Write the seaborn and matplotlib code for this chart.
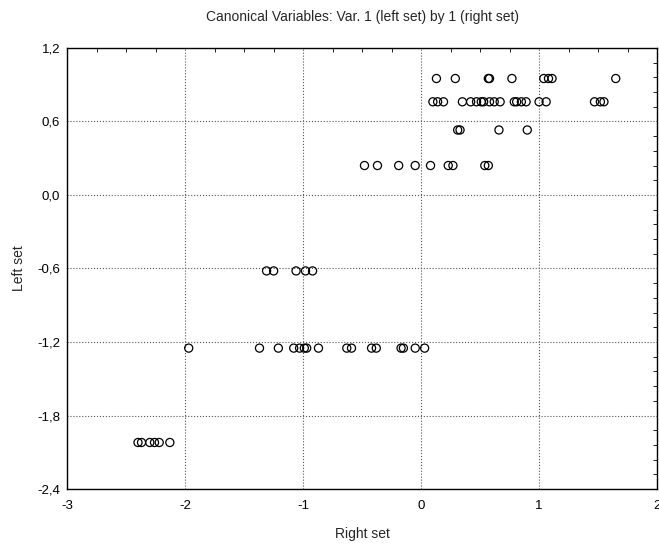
import numpy as np
import pandas as pd
import matplotlib
matplotlib.use("Agg")
import matplotlib.pyplot as plt
import seaborn as sns
from matplotlib.ticker import MultipleLocator, FixedLocator

sns.set_style("white")
plt.rcParams['font.family'] = ['Liberation Sans Narrow', 'Liberation Sans', 'DejaVu Sans']

# canonical scores, one list per level of the left set
row1_x = [0.13, 0.29, 0.57, 0.58, 0.77, 1.04, 1.08, 1.11, 1.65]
row2_x = [0.10, 0.14, 0.19, 0.35, 0.42, 0.47, 0.51, 0.53, 0.58, 0.62, 0.67,
          0.79, 0.81, 0.85, 0.89, 1.00, 1.06, 1.47, 1.52, 1.55]
row3_x = [0.31, 0.33, 0.66, 0.90]
row4_x = [-0.48, -0.37, -0.19, -0.05, 0.08, 0.23, 0.27, 0.54, 0.57]
row5_x = [-1.31, -1.25, -1.06, -0.98, -0.92]
row6_x = [-1.97, -1.37, -1.21, -1.08, -1.03, -0.99, -0.97, -0.87, -0.63,
          -0.59, -0.42, -0.38, -0.17, -0.15, -0.05, 0.03]
row7_x = [-2.40, -2.37, -2.30, -2.26, -2.22, -2.13]
levels = [0.95, 0.76, 0.53, 0.24, -0.62, -1.25, -2.02]

xt = [-3, -2, -1, 0, 1, 2]
yt = [-2.4, -1.8, -1.2, -0.6, 0.0, 0.6, 1.2]

rows = [row1_x, row2_x, row3_x, row4_x, row5_x, row6_x, row7_x]
df = pd.DataFrame({
    'Right set': [x for r in rows for x in r],
    'Left set': [lv for r, lv in zip(rows, levels) for _ in r],
})

fig = plt.figure(figsize=(6.59, 5.44), dpi=100)
ax = fig.add_axes([0.102, 0.101, 0.895, 0.811])

sns.scatterplot(data=df, x='Right set', y='Left set', ax=ax,
                marker='o', s=34, facecolor='none', edgecolor='black',
                linewidth=0.9, zorder=3)

ax.set_xlim(-3, 2)
ax.set_ylim(-2.4, 1.2)
ax.xaxis.set_major_locator(FixedLocator(xt))
ax.xaxis.set_minor_locator(MultipleLocator(0.25))
ax.yaxis.set_major_locator(FixedLocator(yt))
ax.yaxis.set_minor_locator(MultipleLocator(0.12))
ax.set_xticklabels([str(v) for v in xt])
ax.set_yticklabels([f"{v:.1f}".replace('.', ',') for v in yt])

ax.tick_params(which='both', direction='in', labelsize=9.5, colors='black')
ax.tick_params(which='major', length=0, pad=8)
ax.tick_params(which='minor', length=3, width=0.6, top=True, right=True)
ax.tick_params(axis='y', which='major', pad=5)
ax.grid(True, which='major', linestyle=':', color='#555555', linewidth=0.8)

for s in ax.spines.values():
    s.set_color('black')
    s.set_linewidth(1.0)

ax.set_xlabel('Right set', fontsize=10, labelpad=11)
ax.set_ylabel('Left set', fontsize=10, labelpad=8)
ax.set_title('Canonical Variables: Var. 1 (left set) by 1 (right set)',
             fontsize=10, pad=19)

fig.savefig('out.png', dpi=100)
